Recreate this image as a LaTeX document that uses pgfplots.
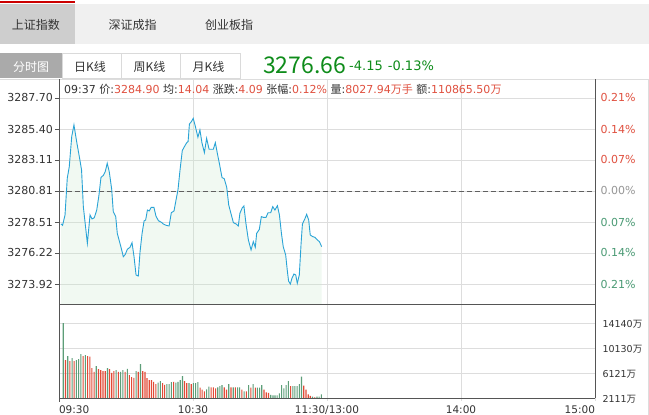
\documentclass[border=0pt]{standalone}
\usepackage{pgfplots}
\pgfplotsset{compat=1.18}
\usepackage{pgfplotstable}
\usepackage{fontspec}
\setmainfont{DejaVu Sans}
\newfontfamily\cjk{Noto Sans CJK SC}
\newcommand{\fs}[1]{\fontsize{#1}{#1}\selectfont}
\definecolor{tabbg}{RGB}{240,240,240}
\definecolor{tabsel}{RGB}{206,206,206}
\definecolor{tabred}{RGB}{204,0,0}
\definecolor{fst}{RGB}{170,170,170}
\definecolor{boxc}{RGB}{218,218,218}
\definecolor{txt}{RGB}{51,51,51}
\definecolor{redt}{RGB}{224,80,63}
\definecolor{greent}{RGB}{74,154,116}
\definecolor{grayt}{RGB}{150,150,150}
\definecolor{bigg}{RGB}{14,140,26}
\definecolor{gridc}{RGB}{221,221,221}
\definecolor{axc}{RGB}{85,85,85}
\definecolor{dashc}{RGB}{95,95,95}
\definecolor{linec}{RGB}{41,163,214}
\definecolor{fillc}{RGB}{200,235,205}
\definecolor{vred}{RGB}{226,74,54}
\definecolor{vgreen}{RGB}{93,158,120}
\pgfplotsset{scaled x ticks=false, scaled y ticks=false}

\pgfplotstableread{
m p
0.9 3278.37
1.6 3278.27
2.7 3279.03
3.7 3281.75
4.6 3282.61
5.7 3284.84
6.7 3285.70
7.9 3284.47
9.1 3283.35
10.1 3282.37
10.9 3279.65
11.8 3278.29
12.7 3276.93
13.9 3279.03
14.8 3278.74
15.8 3278.83
16.9 3279.40
17.9 3280.51
18.8 3281.82
19.9 3281.97
20.7 3282.24
21.6 3282.86
22.5 3282.24
23.6 3280.93
24.3 3279.28
25.4 3278.91
26.1 3277.67
27.3 3276.93
27.9 3276.56
28.8 3275.94
29.7 3276.12
30.6 3276.49
31.8 3276.64
32.7 3276.98
33.6 3275.94
34.5 3274.59
35.5 3274.51
36.3 3276.32
37.2 3277.67
38.1 3278.59
38.8 3278.66
39.6 3279.40
40.4 3279.33
41.3 3279.60
42.5 3279.60
43.4 3278.96
44.5 3278.61
45.7 3278.51
46.7 3278.37
47.9 3278.27
49.3 3278.22
50.3 3279.20
51.5 3279.33
52.4 3280.14
53.3 3280.93
54.2 3282.37
55.2 3283.80
56.0 3284.05
57.2 3284.39
57.8 3284.47
58.4 3285.77
59.3 3285.95
60.1 3286.19
61.0 3285.63
62.2 3284.79
63.1 3285.33
64.0 3284.39
65.1 3283.65
66.1 3284.71
67.2 3283.90
68.2 3283.90
69.1 3283.90
70.0 3284.39
70.9 3283.60
71.8 3282.86
72.4 3282.32
73.0 3281.80
74.0 3281.72
75.1 3281.08
76.0 3279.77
76.9 3279.20
78.1 3278.46
79.3 3278.37
80.3 3278.22
81.0 3279.16
82.1 3279.58
82.8 3279.70
83.7 3278.41
84.8 3277.18
86.0 3276.44
87.0 3277.06
87.9 3276.64
88.5 3277.67
89.7 3277.97
90.6 3278.91
91.5 3278.86
92.7 3278.86
93.6 3279.20
94.8 3279.20
95.7 3279.65
96.7 3279.40
97.8 3279.72
98.7 3279.03
99.6 3277.67
100.4 3276.69
101.5 3276.07
102.2 3274.96
102.8 3274.14
103.6 3273.92
104.3 3274.34
105.2 3274.66
106.0 3274.59
106.7 3273.97
107.6 3274.59
108.4 3276.93
109.0 3278.37
110.0 3278.71
110.9 3279.08
111.8 3278.66
112.5 3277.55
113.6 3277.43
114.6 3277.38
115.7 3277.18
116.6 3277.06
117.6 3276.69
}\price

\pgfplotstableread{
m v
2.9 8208
4.9 8047
6.8 8047
10.8 8856
12.8 8856
13.8 8748
14.7 6913
15.7 6320
17.7 6752
18.7 6590
19.7 6428
20.7 6428
22.6 6752
23.6 6158
24.6 6428
26.6 6320
29.6 6320
31.5 5780
32.5 5457
33.5 5349
35.5 6320
37.5 6428
38.5 6320
39.4 5295
40.4 4971
41.4 4971
42.4 4701
43.4 4323
46.4 4485
47.3 4215
51.3 4701
56.2 4809
57.2 4485
59.2 4323
63.2 3784
64.1 3460
65.1 3190
68.1 3838
69.1 3838
70.1 3676
74.0 3838
75.0 3460
77.0 3838
79.0 3838
81.9 3460
83.9 3190
85.9 3784
87.9 3784
91.8 3460
92.8 3028
93.8 2920
103.7 4000
109.6 4108
110.6 3460
111.6 2705
112.5 2435
114.5 2219
}\volred

\pgfplotstableread{
m v
1.9 14144
3.9 8856
5.9 8532
7.8 8208
8.8 8370
9.8 9180
11.8 9018
16.7 7237
21.7 6913
25.6 6590
27.6 6320
28.6 6590
30.6 6806
34.5 6428
36.5 7561
44.4 4593
45.4 4809
48.3 4323
49.3 4323
50.3 4647
52.3 4593
53.3 4701
54.3 4971
55.3 5618
58.2 4485
60.2 4485
61.2 4485
62.2 4647
66.1 3514
67.1 3946
71.1 3838
72.0 4000
73.0 4161
76.0 4323
78.0 3838
80.0 3838
80.9 3838
82.9 3190
84.9 4161
86.9 4323
88.8 3784
89.8 3784
90.8 4161
94.8 2597
95.8 2543
96.7 2543
97.7 2543
98.7 2866
99.7 4161
100.7 3676
101.7 4161
102.7 4809
104.7 4000
105.6 4000
106.6 4000
107.6 4323
108.6 5564
113.5 2327
115.5 2327
116.5 2327
117.5 2705
}\volgreen

\begin{document}
\begin{tikzpicture}[x=1pt,y=1pt]
\useasboundingbox (0,0) rectangle (649,415);
\fill[white] (0,0) rectangle (649,415);
% top tab bar
\fill[tabbg] (0,371) rectangle (649,411);
\fill[tabsel] (0,371) rectangle (75,411);
\fill[tabred] (0,411.5) rectangle (75,413.5);
\node[text=txt,inner sep=0] at (36,390) {\cjk\fs{12}上证指数};
\node[text=txt,inner sep=0] at (132.5,390) {\cjk\fs{12}深证成指};
\node[text=txt,inner sep=0] at (229,390) {\cjk\fs{12}创业板指};
% second row
\fill[fst] (0,337) rectangle (62,362);
\draw[boxc] (62,337) rectangle (121,362);
\draw[boxc] (121,337) rectangle (180,362);
\draw[boxc] (180,337) rectangle (240,362);
\node[text=white,inner sep=0] at (31,348.5) {\cjk\fs{12}分时图};
\node[text=txt,inner sep=0] at (90,348.5) {\cjk\fs{12}日K线};
\node[text=txt,inner sep=0] at (149.5,348.5) {\cjk\fs{12}周K线};
\node[text=txt,inner sep=0] at (208.5,348.5) {\cjk\fs{12}月K线};
\node[text=bigg,inner sep=0,anchor=base west] at (263,341) {\cjk\fs{23}3276.66};
\node[text=bigg,inner sep=0,anchor=base west] at (349,344) {\fs{13}-4.15};
\node[text=bigg,inner sep=0,anchor=base west] at (387.7,344) {\fs{13}-0.13\%};
% frame lines
\draw[gridc,line width=0.8pt] (0,335.6) -- (648.5,335.6);
\draw[gridc,line width=0.8pt] (648.5,335.6) -- (648.5,0);

% price panel
\begin{axis}[
  at={(59pt,111pt)}, anchor=south west, scale only axis,
  width=536pt, height=224pt,
  xmin=0, xmax=240, ymin=3272.44, ymax=3289.03,
  axis line style={draw=none},
  xtick={60,120,180}, xticklabels={}, xmajorgrids,
  ytick={3273.92,3276.22,3278.51,3280.81,3283.11,3285.40,3287.70},
  yticklabels={3273.92,3276.22,3278.51,3280.81,3283.11,3285.40,3287.70},
  ymajorgrids,
  grid style={gridc, line width=0.8pt},
  tick pos=left, tick align=outside,
  x tick style={draw=none},
  y tick style={axc, line width=0.8pt},
  major tick length=4pt,
  yticklabel style={font=\fs{11}, text=txt, xshift=1.5pt},
  /pgf/number format/assume math mode=true,
]
\addplot[fill=fillc, fill opacity=0.25, draw=none] table[x=m,y=p] {\price}
  -- (axis cs:117.6,3272.44) -- (axis cs:0.9,3272.44) -- cycle;
\addplot[dashc, dash pattern=on 5pt off 3pt, line width=0.8pt] coordinates {(0,3280.81) (240,3280.81)};
\addplot[linec, line width=0.9pt, mark=none] table[x=m,y=p] {\price};
\end{axis}

% right percent labels
\begin{axis}[
  at={(59pt,111pt)}, anchor=south west, scale only axis,
  width=536pt, height=224pt,
  xmin=0, xmax=240, ymin=3272.44, ymax=3289.03,
  axis line style={draw=none},
  xtick=\empty,
  ytick={3273.92,3276.22,3278.51,3280.81,3283.11,3285.40,3287.70},
  yticklabels={\textcolor{greent}{0.21\%},\textcolor{greent}{0.14\%},\textcolor{greent}{0.07\%},\textcolor{grayt}{0.00\%},\textcolor{redt}{0.07\%},\textcolor{redt}{0.14\%},\textcolor{redt}{0.21\%}},
  yticklabel pos=right,
  major tick length=0pt,
  y tick style={draw=none},
  yticklabel style={font=\fs{11}, xshift=2pt},
]
\end{axis}

% volume panel
\begin{axis}[
  at={(59pt,17pt)}, anchor=south west, scale only axis,
  width=536pt, height=94pt,
  xmin=0, xmax=240, ymin=2111, ymax=17220,
  axis line style={draw=none},
  xtick={0,60,120,180,240},
  xticklabels={\makebox[0pt][l]{09:30},10:30,11:30/13:00,14:00,\makebox[0pt][r]{15:00}},
  xmajorgrids,
  ytick={2111,6121,10130,14140},
  yticklabels={2111{\cjk 万},6121{\cjk 万},10130{\cjk 万},14140{\cjk 万}},
  yticklabel pos=right,
  ymajorgrids,
  grid style={gridc, line width=0.8pt},
  tick align=outside, major tick length=3pt,
  x tick style={gridc, line width=0.8pt},
  y tick style={draw=none},
  xtick pos=bottom,
  xticklabel style={font=\fs{10.5}, text=txt, yshift=-1.5pt},
  yticklabel style={font=\fs{9.5}, text=txt, xshift=1pt, yshift=-1.5pt},
]
\addplot[ybar, bar width=1.1pt, bar shift=0pt, fill=vred, draw=none] table[x=m,y=v] {\volred};
\addplot[ybar, bar width=1.1pt, bar shift=0pt, fill=vgreen, draw=none] table[x=m,y=v] {\volgreen};
\end{axis}

% info line
\node[inner sep=0, anchor=base west, text=txt] at (64,321) {\fs{11}09:37 {\cjk 价}:\textcolor{redt}{3284.90} {\cjk 均}:\textcolor{redt}{14.04} {\cjk 涨跌}:\textcolor{redt}{4.09} {\cjk 张幅}:\textcolor{redt}{0.12\%} {\cjk 量}:\textcolor{redt}{8027.94{\cjk 万手}} {\cjk 额}:\textcolor{redt}{110865.50{\cjk 万}}};

% axis lines
\draw[axc,line width=0.9pt] (59,13) -- (59,335.6);
\draw[axc,line width=0.9pt] (595,17) -- (595,335.6);
\draw[axc,line width=0.9pt] (59,111) -- (595,111);
\draw[axc,line width=0.9pt] (59,17) -- (595,17);
\end{tikzpicture}
\end{document}
